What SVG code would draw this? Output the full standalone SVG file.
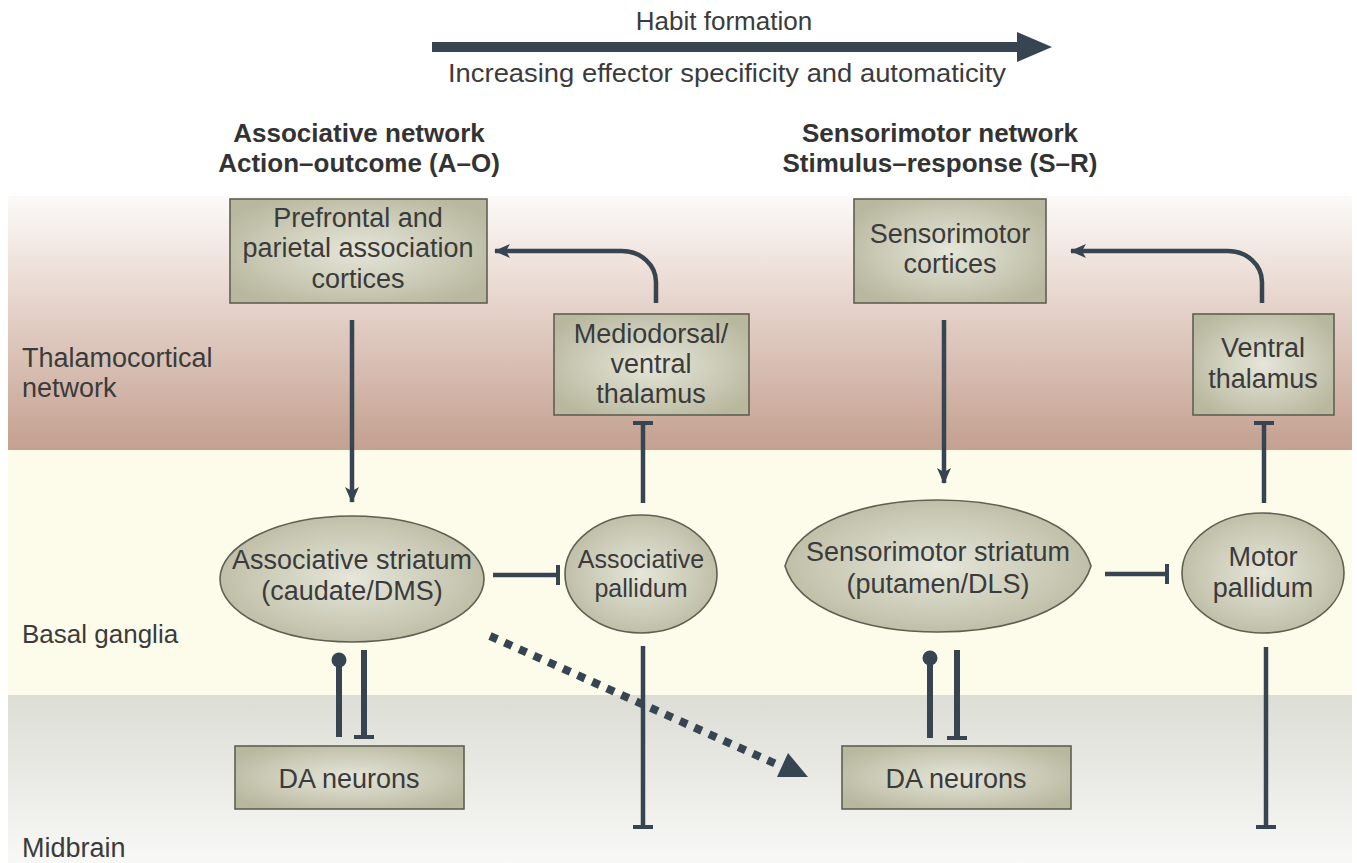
<svg xmlns="http://www.w3.org/2000/svg" width="1357" height="863" viewBox="0 0 1357 863">
<style>
text{font-family:"Liberation Sans",Arial,sans-serif;fill:#3b3b3b}
.n{font-size:27px;text-anchor:middle}
.ns{font-size:25px;text-anchor:middle}
.lab{font-size:27px}
.hd{font-size:26px;font-weight:bold;text-anchor:middle;fill:#333}
.top{font-size:26px;text-anchor:middle}
.box{fill:url(#ng);stroke:#5f5f52;stroke-width:1.6}
.c{fill:none;stroke:#374552;stroke-width:4.5}
.ct{fill:none;stroke:#374552;stroke-width:6}
</style>
<defs>
<linearGradient id="thal" x1="0" y1="0" x2="0" y2="1">
<stop offset="0" stop-color="#fcfaf9"/>
<stop offset="0.3" stop-color="#eddfd8"/>
<stop offset="1" stop-color="#c4a090"/>
</linearGradient>
<linearGradient id="mid" x1="0" y1="0" x2="0" y2="1">
<stop offset="0" stop-color="#dcddd5"/>
<stop offset="1" stop-color="#f8f8f6"/>
</linearGradient>
<radialGradient id="ng" cx="0.5" cy="0.5" r="0.6">
<stop offset="0" stop-color="#e6e6da"/>
<stop offset="1" stop-color="#b8b89f"/>
</radialGradient>
<marker id="arr" markerUnits="userSpaceOnUse" viewBox="0 0 16 14" refX="15" refY="7" markerWidth="16" markerHeight="14" orient="auto">
<path d="M0,0 L16,7 L0,14 L4,7 z" fill="#374552"/>
</marker>
<marker id="tee" markerUnits="userSpaceOnUse" viewBox="0 0 4 20" refX="2" refY="10" markerWidth="4" markerHeight="20" orient="auto">
<rect x="0" y="0" width="4" height="20" fill="#374552"/>
</marker>
<marker id="dot" markerUnits="userSpaceOnUse" viewBox="0 0 16 16" refX="8" refY="8" markerWidth="16" markerHeight="16" orient="auto">
<circle cx="8" cy="8" r="7.5" fill="#374552"/>
</marker>
</defs>

<g id="background">
<rect x="0" y="0" width="1357" height="863" fill="#ffffff"/>
<rect x="8" y="196" width="1344" height="254" fill="url(#thal)"/>
<rect x="8" y="450" width="1344" height="245" fill="#fdfbea"/>
<rect x="8" y="695" width="1344" height="168" fill="url(#mid)"/>
</g>

<g id="labels">
<text class="top" x="724" y="30">Habit formation</text>
<text class="top" x="727" y="82" textLength="558" lengthAdjust="spacingAndGlyphs">Increasing effector specificity and automaticity</text>
<text class="hd" x="359" y="142">Associative network</text>
<text class="hd" x="359" y="172">Action–outcome (A–O)</text>
<text class="hd" x="940" y="142">Sensorimotor network</text>
<text class="hd" x="940" y="172">Stimulus–response (S–R)</text>
<text class="lab" x="22" y="367">Thalamocortical</text>
<text class="lab" x="22" y="397">network</text>
<text class="lab" x="22" y="643" style="font-size:26px">Basal ganglia</text>
<text class="lab" x="22" y="857">Midbrain</text>
</g>

<g id="habit-arrow">
<line x1="432" y1="47" x2="1022" y2="47" stroke="#374552" stroke-width="10"/>
<polygon points="1017,32 1052,47 1017,62" fill="#374552"/>
</g>

<g id="prefrontal">
<rect class="box" x="230" y="199" width="257" height="104"/>
<text class="n" x="358" y="227">Prefrontal and</text>
<text class="n" x="358" y="257">parietal association</text>
<text class="n" x="358" y="288">cortices</text>
</g>
<g id="sensorimotor-cortices">
<rect class="box" x="854" y="199" width="192" height="104"/>
<text class="n" x="950" y="243">Sensorimotor</text>
<text class="n" x="950" y="273">cortices</text>
</g>
<g id="mediodorsal-thalamus">
<rect class="box" x="554" y="314" width="195" height="101"/>
<text class="n" x="651" y="343">Mediodorsal/</text>
<text class="n" x="651" y="373">ventral</text>
<text class="n" x="651" y="403">thalamus</text>
</g>
<g id="ventral-thalamus">
<rect class="box" x="1193" y="314" width="141" height="101"/>
<text class="n" x="1263" y="357">Ventral</text>
<text class="n" x="1263" y="388">thalamus</text>
</g>
<g id="associative-striatum">
<ellipse class="box" cx="352" cy="579" rx="132" ry="63"/>
<text class="n" x="352" y="569">Associative striatum</text>
<text class="n" x="352" y="600">(caudate/DMS)</text>
</g>
<g id="associative-pallidum">
<ellipse class="box" cx="641" cy="574" rx="76" ry="59"/>
<text class="ns" x="641" y="568">Associative</text>
<text class="ns" x="641" y="597">pallidum</text>
</g>
<g id="sensorimotor-striatum">
<path class="box" d="M785,566 C798,522 866,500 938,500 C1010,500 1078,522 1091,566 C1078,610 1010,632 938,632 C866,632 798,610 785,566 Z"/>
<text class="n" x="938" y="561">Sensorimotor striatum</text>
<text class="n" x="938" y="593">(putamen/DLS)</text>
</g>
<g id="motor-pallidum">
<ellipse class="box" cx="1263" cy="573" rx="81" ry="60"/>
<text class="n" x="1263" y="566">Motor</text>
<text class="n" x="1263" y="597">pallidum</text>
</g>
<g id="da-left">
<rect class="box" x="235" y="746" width="229" height="63"/>
<text class="n" x="349" y="788">DA neurons</text>
</g>
<g id="da-right">
<rect class="box" x="842" y="746" width="229" height="63"/>
<text class="n" x="956" y="788">DA neurons</text>
</g>

<g id="connectors">
<line class="c" x1="352" y1="320" x2="352" y2="502" marker-end="url(#arr)"/>
<path class="c" d="M656,303 V282 A34,31 0 0 0 622,251 H495" marker-end="url(#arr)"/>
<line class="c" x1="643" y1="503" x2="643" y2="423" marker-end="url(#tee)"/>
<line class="c" x1="493" y1="575" x2="558" y2="575" marker-end="url(#tee)"/>
<line class="c" x1="643" y1="646" x2="643" y2="827" marker-end="url(#tee)"/>
<line class="ct" x1="339" y1="737" x2="339" y2="660" marker-end="url(#dot)"/>
<line class="ct" x1="364" y1="650" x2="364" y2="737" marker-end="url(#tee)"/>
<line x1="490" y1="636" x2="776" y2="764" stroke="#374552" stroke-width="8" stroke-dasharray="8 8"/>
<polygon points="788,753 808,777 777,777" fill="#374552"/>
<line class="c" x1="944" y1="320" x2="944" y2="483" marker-end="url(#arr)"/>
<path class="c" d="M1262,303 V282 A34,31 0 0 0 1228,251 H1071" marker-end="url(#arr)"/>
<line class="c" x1="1264" y1="503" x2="1264" y2="423" marker-end="url(#tee)"/>
<line class="c" x1="1105" y1="574" x2="1167" y2="574" marker-end="url(#tee)"/>
<line class="c" x1="1266" y1="647" x2="1266" y2="827" marker-end="url(#tee)"/>
<line class="ct" x1="930" y1="738" x2="930" y2="658" marker-end="url(#dot)"/>
<line class="ct" x1="957" y1="650" x2="957" y2="738" marker-end="url(#tee)"/>
</g>
</svg>
